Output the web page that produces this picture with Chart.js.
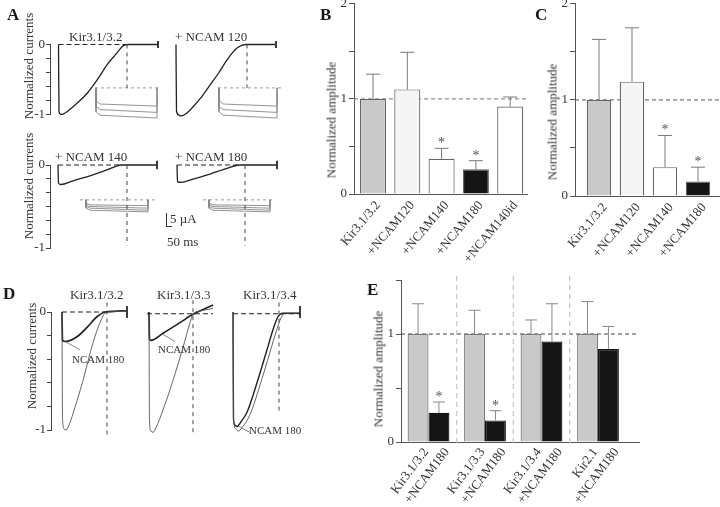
<!DOCTYPE html>
<html>
<head>
<meta charset="utf-8">
<title>Kir3 currents with NCAM</title>
<script src="https://cdn.jsdelivr.net/npm/chart.js@4.4.1/dist/chart.umd.min.js"></script>
<style>
  body { margin: 0; background: #fff; }
  #fig { position: relative; width: 720px; height: 507px; overflow: hidden;
         font-family: 'Liberation Serif', 'Times New Roman', serif; color: #333; }
  #fig canvas { position: absolute; }
  .lbl { position: absolute; font-size: 13px; line-height: 1; white-space: nowrap; }
  .sm { font-size: 11px; }
  .panel { position: absolute; font-size: 17px; font-weight: bold; line-height: 1; color: #1a1a1a; }
  .ytitle { position: absolute; font-size: 13px; line-height: 1; white-space: nowrap;
            transform: translate(-50%, -50%) rotate(-90deg); }
</style>
</head>
<body>
<div id="fig">
  <canvas id="aTop" width="300" height="135" style="left:0;top:0"></canvas>
  <canvas id="aBot" width="300" height="140" style="left:0;top:130px"></canvas>
  <canvas id="dTr" width="320" height="170" style="left:0;top:280px"></canvas>
  <canvas id="bBar" width="250" height="290" style="left:290px;top:-6px"></canvas>
  <canvas id="cBar" width="220" height="290" style="left:500px;top:-6px"></canvas>
  <canvas id="eBar" width="310" height="247" style="left:340px;top:260px"></canvas>

  <div class="panel" style="left:7px;top:6px">A</div>
  <div class="ytitle" style="left:28px;top:66px">Normalized currents</div>
  <div class="ytitle" style="left:28px;top:186px">Normalized currents</div>
  <div class="lbl" style="left:69px;top:30px">Kir3.1/3.2</div>
  <div class="lbl" style="left:175px;top:30px">+ NCAM 120</div>
  <div class="lbl" style="left:55px;top:150px">+ NCAM 140</div>
  <div class="lbl" style="left:175px;top:150px">+ NCAM 180</div>
  <div style="position:absolute;left:166px;top:213px;width:5px;height:13px;border-left:1px solid #333;border-bottom:1px solid #333"></div>
  <div class="lbl" style="left:170px;top:212px">5 µA</div>
  <div class="lbl" style="left:167px;top:235px">50 ms</div>

  <div class="panel" style="left:320px;top:6px">B</div>
  <div class="ytitle" style="left:331px;top:120px">Normalized amplitude</div>

  <div class="panel" style="left:535px;top:6px">C</div>
  <div class="ytitle" style="left:552px;top:122px">Normalized amplitude</div>

  <div class="panel" style="left:3px;top:285px">D</div>
  <div class="ytitle" style="left:31px;top:356px">Normalized currents</div>
  <div class="lbl" style="left:70px;top:288px">Kir3.1/3.2</div>
  <div class="lbl" style="left:157px;top:288px">Kir3.1/3.3</div>
  <div class="lbl" style="left:243px;top:288px">Kir3.1/3.4</div>
  <div class="lbl sm" style="left:72px;top:354px">NCAM 180</div>
  <div class="lbl sm" style="left:158px;top:344px">NCAM 180</div>
  <div class="lbl sm" style="left:249px;top:425px">NCAM 180</div>

  <div class="panel" style="left:367px;top:281px">E</div>
  <div class="ytitle" style="left:378px;top:369px">Normalized amplitude</div>
</div>

<script>
// ---- A: current traces, time in ms, current normalised to control peak ----
const kir32A = [[17,0],[18,-0.96],[22,-1.0],[26,-0.995],[34,-0.96],[54,-0.84],[74,-0.70],[94,-0.51],[114,-0.29],[134,-0.12],[146,-0.02],[156,0],[216,0]];
const ncam120A = [[252,0],[253,-0.95],[258,-1.01],[262,-1.02],[272,-0.99],[286,-0.89],[304,-0.74],[320,-0.58],[338,-0.40],[354,-0.22],[374,-0.05],[392,0],[450,0]];
const aTopZero = [[17,0],[154,0]];
const aTopMarkers = [154, 394];
const aTopMarkerDepth = -0.62;
const aTopEnds = [216, 452];

const ncam140A = [[16,0],[17,-0.22],[22,-0.235],[46,-0.19],[80,-0.13],[114,-0.06],[134,-0.01],[142,0],[214,0]];
const ncam180A = [[254,0],[255,-0.2],[262,-0.21],[286,-0.17],[320,-0.11],[354,-0.04],[380,0],[454,0]];
const aBotZero = [[[16,0],[142,0]], [[254,0],[380,0]]];
const aBotMarkers = [154, 390];
const aBotMarkerDepth = -0.97;
const aBotEnds = [214, 454];

// voltage-step insets: dashed holding line, sweep start/end, [start, after sag, end] level of each sweep
const insetTopDash = [[90,222],[336,466]];
const insetTopTimes = [[92,214],[338,454]];
const insetTopHold = -0.62;
const insetTopSweeps = [[-0.80,-0.85,-0.88],[-0.88,-0.93,-0.97],[-0.96,-1.01,-1.05]];
const insetBotDash = [[60,214],[306,450]];
const insetBotTimes = [[72,196],[318,440]];
const insetBotHold = -0.42;
const insetBotSweeps = [[-0.46,-0.48,-0.49],[-0.48,-0.50,-0.52],[-0.50,-0.52,-0.545],[-0.52,-0.545,-0.565]];
const sagTime = 8;

// ---- D: control (thin) and +NCAM180 (thick) traces ----
const thin32D = [[22,0],[23,-0.9],[26,-0.99],[30,-1.0],[36,-0.96],[44,-0.86],[64,-0.58],[84,-0.26],[98,-0.09],[108,-0.01],[118,0],[152,0.01]];
const thick32D = [[22,0],[23,-0.24],[28,-0.25],[52,-0.21],[72,-0.13],[92,-0.04],[108,0],[152,0.01]];
const thin33D = [[196,0],[197,-0.92],[200,-1.01],[204,-1.02],[210,-0.98],[224,-0.83],[244,-0.58],[264,-0.30],[278,-0.09],[284,-0.02],[300,0.01],[324,0.03]];
const thick33D = [[196,0],[197,-0.23],[200,-0.24],[224,-0.18],[258,-0.09],[284,-0.02],[324,0.06]];
const thick34D = [[364,0],[365,-0.9],[368,-0.96],[372,-0.97],[380,-0.93],[392,-0.85],[412,-0.60],[432,-0.32],[444,-0.15],[454,-0.04],[464,-0.01],[498,-0.01]];
const thin34D = [[364,0],[365,-0.92],[370,-0.99],[374,-1.01],[382,-0.98],[398,-0.87],[418,-0.62],[438,-0.34],[450,-0.17],[460,-0.05],[468,-0.01],[498,-0.01]];
const dZero = [[[22,0],[112,0]], [[192,-0.015],[324,-0.015]], [[364,-0.015],[498,-0.015]]];
const dMarkers = [[112,0.08,-1.04],[284,0.1,-1.04],[456,0.08,-0.86]];
const dEnds = [152, 498];
const dPointers = [[[28,-0.25],[58,-0.32]], [[224,-0.19],[248,-0.25]], [[376,-0.97],[398,-1.02]]];

// ---- B, C, E: bar values (mean and top of error bar) ----
const bLabels = ['Kir3.1/3.2', '+NCAM120', '+NCAM140', '+NCAM180', '+NCAM140id'];
const bMean = [1.0, 1.10, 0.37, 0.26, 0.92];
const bErr = [1.26, 1.49, 0.48, 0.35, 1.02];
const bSig = [0, 0, 1, 1, 0];

const cLabels = ['Kir3.1/3.2', '+NCAM120', '+NCAM140', '+NCAM180'];
const cMean = [1.0, 1.19, 0.30, 0.15];
const cErr = [1.63, 1.75, 0.63, 0.30];
const cSig = [0, 0, 1, 1];

const eChannels = ['Kir3.1/3.2', 'Kir3.1/3.3', 'Kir3.1/3.4', 'Kir2.1'];
const eNcamLabel = '+NCAM180';
const eCtrl = [1, 1, 1, 1];
const eCtrlErr = [1.28, 1.22, 1.13, 1.30];
const eNcam = [0.27, 0.20, 0.93, 0.86];
const eNcamErr = [0.37, 0.29, 1.28, 1.07];
const eSig = [1, 1, 0, 0];

Chart.defaults.font.family = "'Liberation Serif', 'Times New Roman', serif";
Chart.defaults.font.size = 13;
Chart.defaults.color = '#333';
Chart.defaults.animation = false;
Chart.defaults.plugins.legend.display = false;
Chart.defaults.plugins.tooltip.enabled = false;

const INK = '#222', GREY = '#888';

function line(pts, color, width, dash) {
  return { data: pts.map(([x, y]) => ({ x, y })), borderColor: color, borderWidth: width,
           borderDash: dash || [], pointRadius: 0, fill: false, clip: false, tension: 0 };
}
function trace(pts, color, width) {
  return Object.assign(line(pts, color, width), { cubicInterpolationMode: 'monotone' });
}
function markers(times, depth) {
  return times.map(t => line([[t, 0], [t, depth]], '#444', 1, [4, 4]));
}
function endTicks(times) {
  return times.map(t => line([[t, 0.05], [t, -0.05]], INK, 1));
}
function insetSets(dash, times, hold, sweeps) {
  const out = dash.map(([a, b]) => line([[a, hold], [b, hold]], '#999', 1, [3, 3]));
  times.forEach(([t0, t1]) => sweeps.forEach(([s, m, e]) =>
    out.push(line([[t0, hold], [t0, s], [t0 + sagTime, m], [t1, e], [t1, hold]], GREY, 0.9))));
  return out;
}

function traceChart(id, box, datasets) {
  return new Chart(document.getElementById(id), {
    type: 'line',
    data: { datasets },
    options: {
      responsive: false, devicePixelRatio: 1,
      layout: { padding: box.pad },
      scales: {
        x: { type: 'linear', display: false, min: 0, max: box.xMax },
        y: {
          min: -1, max: 0,
          afterFit: s => { s.width = box.yW; },
          grid: { drawOnChartArea: false, tickLength: 4, color: '#444' },
          border: { color: '#444' },
          ticks: {
            stepSize: box.step, padding: 1, autoSkip: false,
            callback: v => Math.abs(v) < 1e-6 ? '0' : Math.abs(v + 1) < 1e-6 ? '-1' : ''
          }
        }
      }
    }
  });
}

traceChart('aTop', { pad: { left: 0, top: 44.5, right: 10, bottom: 20.5 }, yW: 50, xMax: 480, step: 0.2 }, [
  line(aTopZero, INK, 1, [5, 3]),
  ...markers(aTopMarkers, aTopMarkerDepth),
  ...insetSets(insetTopDash, insetTopTimes, insetTopHold, insetTopSweeps),
  trace(kir32A, INK, 1.3),
  trace(ncam120A, INK, 1.3),
  ...endTicks(aTopEnds)
]);

traceChart('aBot', { pad: { left: 0, top: 35, right: 10, bottom: 22 }, yW: 50, xMax: 480, step: 1 / 6 }, [
  ...aBotZero.map(z => line(z, INK, 1, [5, 3])),
  ...markers(aBotMarkers, aBotMarkerDepth),
  ...insetSets(insetBotDash, insetBotTimes, insetBotHold, insetBotSweeps),
  trace(ncam140A, INK, 1.3),
  trace(ncam180A, INK, 1.3),
  ...endTicks(aBotEnds)
]);

traceChart('dTr', { pad: { left: 0, top: 32, right: 10, bottom: 20 }, yW: 51, xMax: 518, step: 0.2 }, [
  ...dZero.map(z => line(z, INK, 1, [5, 3])),
  ...dMarkers.map(([t, a, b]) => line([[t, a], [t, b]], '#444', 1, [4, 4])),
  ...dPointers.map(p => line(p, '#666', 0.8)),
  trace(thin32D, '#555', 0.9),
  trace(thin33D, '#555', 0.9),
  trace(thin34D, '#555', 0.9),
  trace(thick32D, INK, 1.7),
  trace(thick33D, INK, 1.7),
  trace(thick34D, INK, 1.4),
  ...endTicks(dEnds)
]);

// ---- bar chart helpers ----
const refLine = {
  id: 'refLine',
  beforeDatasetsDraw(chart, args, opts) {
    const { ctx, chartArea: a, scales: { y } } = chart;
    const py = y.getPixelForValue(1);
    ctx.save();
    ctx.strokeStyle = opts.color; ctx.lineWidth = 1; ctx.setLineDash([4, 3]);
    ctx.beginPath(); ctx.moveTo(a.left, py); ctx.lineTo(a.right, py); ctx.stroke();
    ctx.restore();
  }
};
const errorBars = {
  id: 'errorBars',
  afterDatasetsDraw(chart, args, opts) {
    const { ctx, scales: { y } } = chart;
    chart.data.datasets.forEach((ds, i) => {
      chart.getDatasetMeta(i).data.forEach((bar, j) => {
        const top = y.getPixelForValue(ds.errors[j]);
        ctx.save();
        ctx.strokeStyle = opts.color; ctx.lineWidth = 1;
        ctx.beginPath();
        ctx.moveTo(bar.x, bar.y); ctx.lineTo(bar.x, top);
        ctx.moveTo(bar.x - opts.cap / 2, top); ctx.lineTo(bar.x + opts.cap / 2, top);
        ctx.stroke();
        if (ds.stars[j]) {
          ctx.fillStyle = '#555';
          ctx.font = "14px 'Liberation Serif', serif";
          ctx.textAlign = 'center'; ctx.textBaseline = 'alphabetic';
          ctx.fillText('*', bar.x, top - 1);
        }
        ctx.restore();
      });
    });
  }
};
const groupLines = {
  id: 'groupLines',
  beforeDatasetsDraw(chart, args, opts) {
    if (!opts.show) return;
    const { ctx, chartArea: a, scales: { x } } = chart;
    ctx.save();
    ctx.strokeStyle = '#bbb'; ctx.lineWidth = 1; ctx.setLineDash([5, 4]);
    for (let i = 1; i < opts.count; i++) {
      const px = x.getPixelForValue(i - 0.5);
      ctx.beginPath(); ctx.moveTo(px, a.top - 4); ctx.lineTo(px, a.bottom + 3); ctx.stroke();
    }
    ctx.restore();
  }
};

function bars(values, errors, stars, colors, border, cat) {
  return {
    data: values.map((v, i) => ({ x: i, y: v })),
    errors, stars,
    backgroundColor: colors, borderColor: border, borderWidth: 1.2, borderSkipped: 'start',
    categoryPercentage: cat, barPercentage: 1
  };
}

// labels: one per bar; groups: number of x positions; perGroup: bars side by side at each position
function barChart(id, box, labels, groups, perGroup, yMax, datasets, extra) {
  const half = box.cat / (2 * perGroup);
  const labelAt = [];
  for (let i = 0; i < groups; i++)
    for (let k = 0; k < perGroup; k++) labelAt.push(i - box.cat / 2 + half * (2 * k + 1));
  return new Chart(document.getElementById(id), {
    type: 'bar',
    data: { datasets },
    plugins: [refLine, errorBars, groupLines],
    options: {
      responsive: false, devicePixelRatio: 1,
      layout: { padding: box.pad },
      scales: {
        x: {
          type: 'linear', min: box.xMin, max: box.xMax, offset: false,
          afterFit: s => { s.height = 0; },
          afterBuildTicks: s => { s.ticks = Array.from({ length: groups }, (_, i) => ({ value: i })); },
          grid: { display: false, offset: false },
          border: { color: '#555' },
          ticks: { display: false }
        },
        xl: {
          type: 'linear', position: 'bottom', min: box.xMin, max: box.xMax, offset: false,
          afterFit: s => { s.height = box.xH; },
          afterBuildTicks: s => { s.ticks = labelAt.map(v => ({ value: v })); },
          grid: { display: false, offset: false },
          border: { display: false },
          ticks: { autoSkip: false, minRotation: box.rot, maxRotation: box.rot,
                   padding: box.tp, labelOffset: box.lo, font: { size: box.fs },
                   callback: (v, i) => labels[i] }
        },
        y: {
          min: 0, max: yMax,
          afterFit: s => { s.width = box.yW; },
          grid: { drawOnChartArea: false, tickLength: 5, color: '#555' },
          border: { color: '#555' },
          ticks: { stepSize: 0.5, padding: 2, autoSkip: false,
                   callback: v => Number.isInteger(v) ? String(v) : '' }
        }
      },
      plugins: Object.assign({
        refLine: { color: '#777' },
        errorBars: { color: '#777', cap: 14 },
        groupLines: { show: false }
      }, extra)
    }
  });
}

barChart('bBar',
  { pad: { left: 0, top: 8, right: 13, bottom: 5 }, yW: 64, xH: 85, xMin: -0.554, xMax: 4.49,
    rot: 50, fs: 13, tp: -4, lo: 5, cat: 0.76 },
  bLabels, bLabels.length, 1, 2,
  [bars(bMean, bErr, bSig, ['#c9c9c9', '#f5f5f5', '#ffffff', '#151515', '#ffffff'], '#666', 0.76)]);

barChart('cBar',
  { pad: { left: 0, top: 8, right: 0, bottom: 5 }, yW: 75, xH: 83, xMin: -0.727, xMax: 3.667,
    rot: 50, fs: 13, tp: -4, lo: 6, cat: 0.74 },
  cLabels, cLabels.length, 1, 2,
  [bars(cMean, cErr, cSig, ['#c9c9c9', '#f5f5f5', '#ffffff', '#151515'], '#666', 0.74)],
  { refLine: { color: '#555' } });

barChart('eBar',
  { pad: { left: 0, top: 20, right: 11, bottom: 3 }, yW: 61, xH: 62, xMin: -0.487, xMax: 3.726,
    rot: 53, fs: 13, tp: -5, lo: 8, cat: 0.74 },
  eChannels.flatMap(c => [c, eNcamLabel]), eChannels.length, 2, 1.5,
  [bars(eCtrl, eCtrlErr, eCtrl.map(() => 0), '#c9c9c9', '#777', 0.74),
   bars(eNcam, eNcamErr, eSig, '#151515', '#111', 0.74)],
  { refLine: { color: '#444' }, errorBars: { color: '#888', cap: 12 }, groupLines: { show: true, count: eChannels.length } });
</script>
</body>
</html>
